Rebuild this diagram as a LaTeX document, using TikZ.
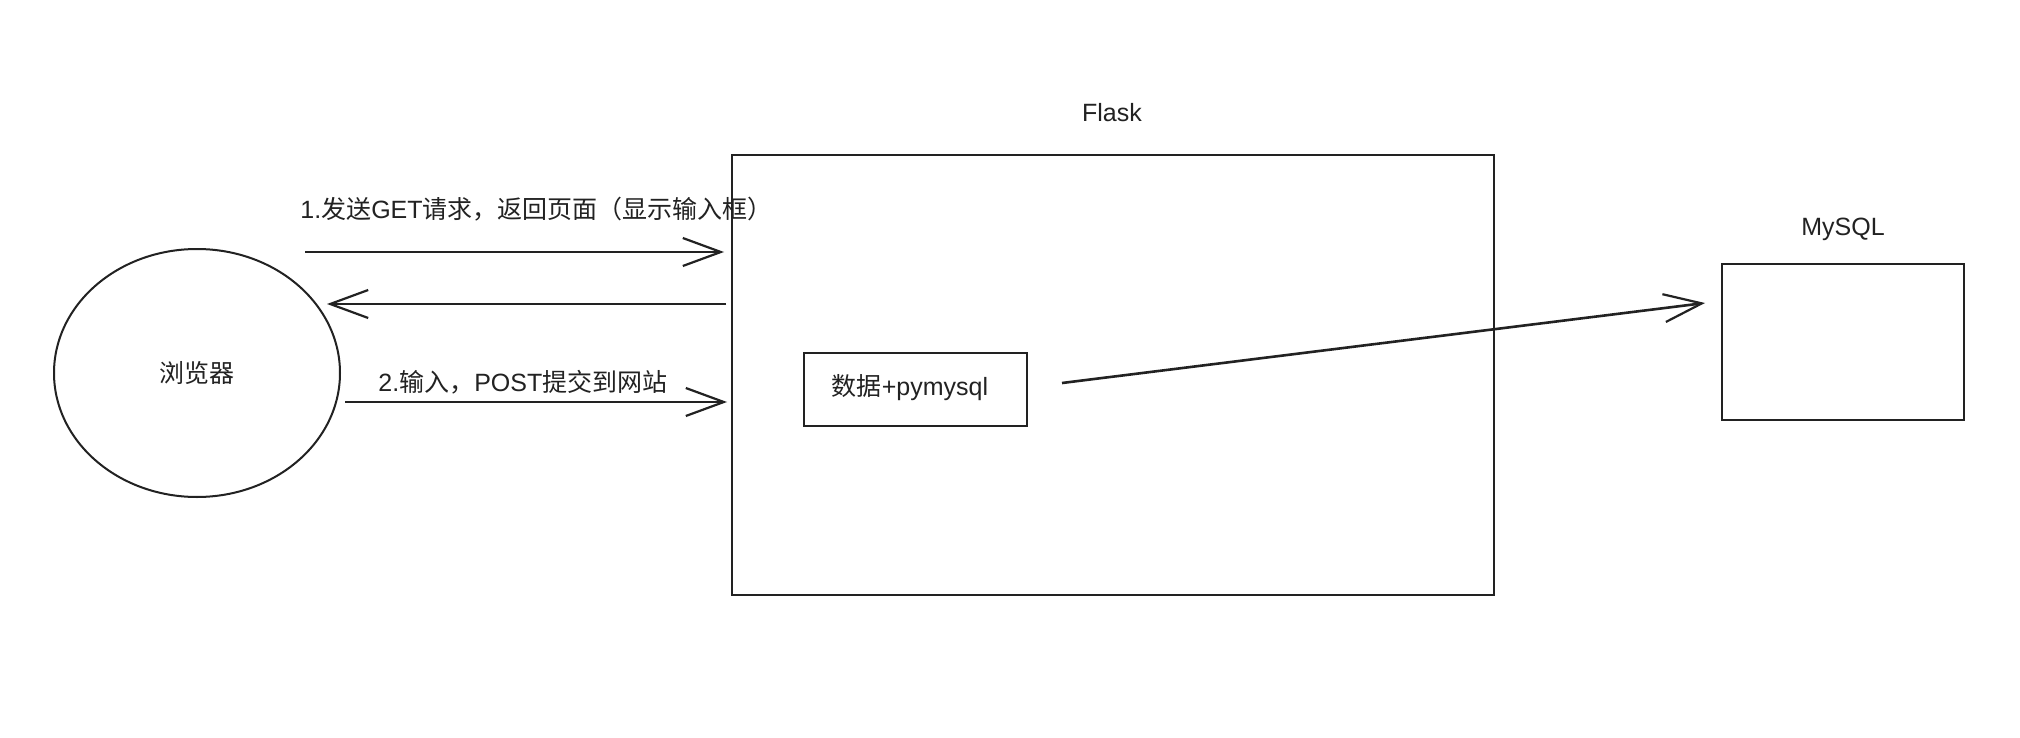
\documentclass[tikz,border=0pt]{standalone}
\usepackage{fontspec}
\setmainfont{Liberation Sans}
\newfontfamily\cjk{Noto Sans CJK SC}
\usetikzlibrary{arrows.meta,shapes.geometric,calc}
\definecolor{ink}{HTML}{222222}
\tikzset{
  lbl/.style={font=\fontsize{12.5pt}{15pt}\selectfont, text=ink, inner sep=0pt},
  boxline/.style={draw=ink, line width=1pt},
  arr/.style={draw=ink, line width=1.3pt, -{Straight Barb[length=19pt,width=14pt,line width=1.1pt]}},
}
\begin{document}
\begin{tikzpicture}[x=0.5pt,y=-0.5pt]
\useasboundingbox (0,0) rectangle (2020,738);
\fill[white] (0,0) rectangle (2020,738);
% nodes
\node[boxline, ellipse, minimum width=143pt, minimum height=124pt, inner sep=0pt] (browser) at (197,373) {};
\node[lbl] (browserlbl) at (197,373) {\cjk 浏览器};
\node[boxline, rectangle, minimum width=381pt, minimum height=220pt, inner sep=0pt] (flask) at (1113,375) {};
\node[lbl] (flasklbl) at (1112,113) {Flask};
\node[boxline, rectangle, minimum width=111.5pt, minimum height=36.5pt, inner sep=0pt] (data) at (915.5,389) {};
\node[lbl] (datalbl) at (910,388) {{\cjk 数据}+pymysql};
\node[boxline, rectangle, minimum width=121pt, minimum height=78pt, inner sep=0pt] (mysql) at (1843,342) {};
\node[lbl] (mysqllbl) at (1843,229) {MySQL};
% labels
\node[lbl, anchor=west] (l1) at (300,209) {1.{\cjk 发送}GET{\cjk 请求，返回页面（显示输入框）}};
\node[lbl, anchor=west] (l2) at (378,382) {2.{\cjk 输入，}POST{\cjk 提交到网站}};
% connector ends
\coordinate (a1s) at (305,252);
\coordinate (a2e) at (327,304);
\coordinate (a3s) at (345,402);
\coordinate (a4s) at (1062,383);
\coordinate (a4e) at (1705,303);
% connectors
\draw[arr, shorten >=3.5pt] (a1s) -- (a1s -| flask.west);
\draw[arr, shorten <=2.5pt] (a2e -| flask.west) -- (a2e);
\draw[arr, shorten >=2pt] (a3s) -- (a3s -| flask.west);
\draw[arr] (a4s) -- (a4e);
\end{tikzpicture}
\end{document}
